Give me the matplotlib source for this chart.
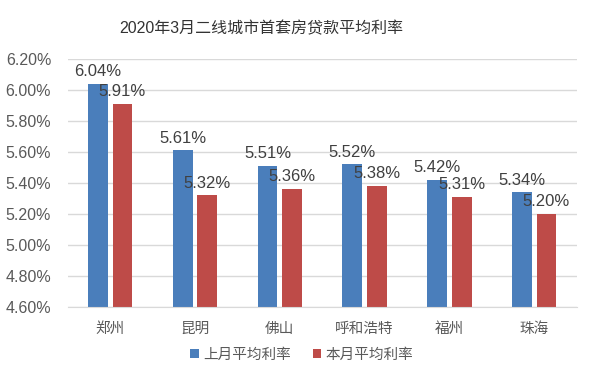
import matplotlib.pyplot as plt
import numpy as np

plt.rcParams['font.family'] = ['Liberation Sans', 'Noto Sans CJK SC', 'DejaVu Sans']

cities = ['郑州', '昆明', '佛山', '呼和浩特', '福州', '珠海']
last_month = [6.04, 5.61, 5.51, 5.52, 5.42, 5.34]
this_month = [5.91, 5.32, 5.36, 5.38, 5.31, 5.20]
series_names = ['上月平均利率', '本月平均利率']
title = '2020年3月二线城市首套房贷款平均利率'

blue = '#4a7ebb'
red = '#be4b48'
text_gray = '#595959'

fig = plt.figure(figsize=(6, 3.85), dpi=100)
ax = fig.add_axes([0.113, 0.203, 0.848, 0.644])

x = np.arange(len(cities))
w = 0.235
off = 0.145
b1 = ax.bar(x - off, last_month, w, color=blue, label=series_names[0], zorder=2)
b2 = ax.bar(x + off, this_month, w, color=red, label=series_names[1], zorder=2)

for bars, vals in ((b1, last_month), (b2, this_month)):
    for b, v in zip(bars, vals):
        ax.text(b.get_x() + b.get_width() / 2, v + 0.03, f'{v:.2f}%',
                ha='center', va='bottom', fontsize=12, color='#404040')

ax.set_ylim(4.6, 6.2)
ax.set_xlim(-0.5, len(cities) - 0.5)
yt = np.arange(4.6, 6.21, 0.2)
ax.set_yticks(yt)
ax.set_yticklabels([f'{v:.2f}%' for v in yt], fontsize=11.5, color=text_gray)
ax.set_xticks(x)
ax.set_xticklabels(cities, fontsize=10.5, color=text_gray)
ax.tick_params(axis='y', length=0, pad=12)
ax.tick_params(axis='x', length=0, pad=11)
ax.yaxis.grid(True, color='#d9d9d9', linewidth=1, zorder=0)
for s in ['top', 'right', 'left']:
    ax.spines[s].set_visible(False)
ax.spines['bottom'].set_color('#d9d9d9')

fig.text(0.435, 0.927, title, ha='center', va='center', fontsize=11.5, color='#333333')

fig.legend(loc='center', bbox_to_anchor=(0.503, 0.078), ncol=2, frameon=False,
           fontsize=10.5, handlelength=0.6, handleheight=0.6, handletextpad=0.3,
           columnspacing=1.5, labelcolor=text_gray)

fig.savefig('out.png', dpi=100)
